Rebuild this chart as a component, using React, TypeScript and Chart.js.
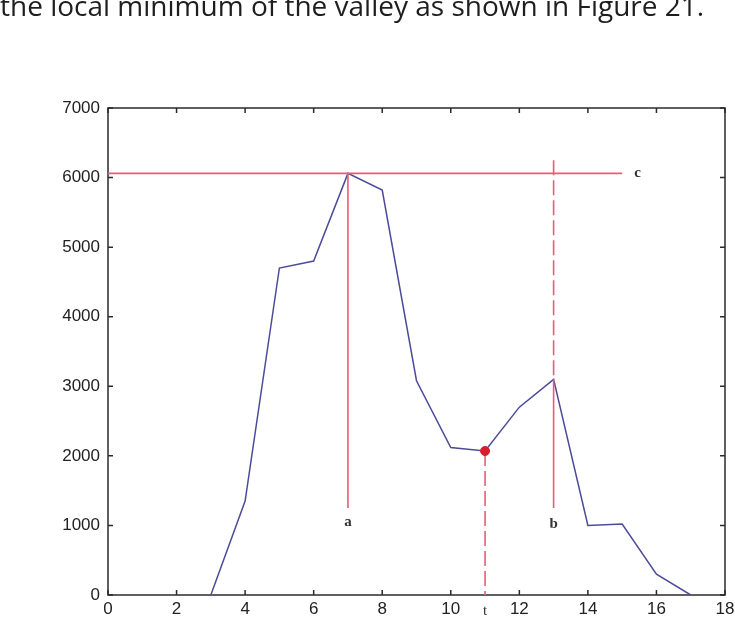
import React, { useEffect, useRef } from "react";
import { Chart, registerables } from "chart.js";

Chart.register(...registerables);

// Signal samples (x = sample index, y = amplitude)
const sampleX = [3, 4, 5, 6, 7, 8, 9, 10, 11, 12, 13, 14, 15, 16, 17];
const sampleY = [0, 1350, 4700, 4800, 6060, 5820, 3080, 2120, 2070, 2700, 3100, 1000, 1020, 300, 0];

// Axis ticks
const xTicks = [0, 2, 4, 6, 8, 10, 12, 14, 16, 18];
const yTicks = [0, 1000, 2000, 3000, 4000, 5000, 6000, 7000];

// Reference level c and the marker lines a, b, t
const levelC = 6060;
const levelCSpan = [0, 15];
const peakAX = 7;
const peakBX = 13;
const peakBY = 3100;
const markerBottom = 1250;
const markerBTop = 6250;
const valleyX = 11;
const valleyY = 2070;

const heading = "the local minimum of the valley as shown in Figure 21.";

const RED = "#e35f76";
const BLUE = "#4b4b99";

const framePlugin = {
  id: "matlabFrame",
  beforeDatasetsDraw(chart: any) {
    const { ctx, chartArea: a, scales } = chart;
    const xs = scales.x;
    const ys = scales.y;
    ctx.save();
    ctx.strokeStyle = "#2b2b2b";
    ctx.lineWidth = 1.5;
    ctx.strokeRect(a.left, a.top, a.right - a.left, a.bottom - a.top);
    const tl = 5;
    ctx.beginPath();
    xTicks.forEach((v) => {
      const px = xs.getPixelForValue(v);
      ctx.moveTo(px, a.bottom);
      ctx.lineTo(px, a.bottom - tl);
      ctx.moveTo(px, a.top);
      ctx.lineTo(px, a.top + tl);
    });
    yTicks.forEach((v) => {
      const py = ys.getPixelForValue(v);
      ctx.moveTo(a.left, py);
      ctx.lineTo(a.left + tl, py);
      ctx.moveTo(a.right, py);
      ctx.lineTo(a.right - tl, py);
    });
    ctx.stroke();
    ctx.restore();
  },
  afterDraw(chart: any) {
    const { ctx, scales } = chart;
    const xs = scales.x;
    const ys = scales.y;
    ctx.save();
    ctx.fillStyle = "#333";
    ctx.font = "bold 15px 'Liberation Serif'";
    ctx.textAlign = "center";
    ctx.textBaseline = "middle";
    ctx.fillText("a", xs.getPixelForValue(peakAX), ys.getPixelForValue(1050));
    ctx.fillText("b", xs.getPixelForValue(peakBX), ys.getPixelForValue(1020));
    ctx.fillText("c", xs.getPixelForValue(15.45), ys.getPixelForValue(levelC));
    ctx.font = "15px 'Liberation Serif'";
    ctx.fillText("t", xs.getPixelForValue(valleyX), 611);

    // Running text of the page, cut at the top edge
    ctx.fillStyle = "#1e1e1e";
    ctx.font = "28px 'Open Sans'";
    ctx.textAlign = "left";
    ctx.textBaseline = "alphabetic";
    ctx.fillText(heading, 0, 16, 706);
    ctx.restore();
  },
};

export default function App() {
  const canvasRef = useRef<HTMLCanvasElement | null>(null);

  useEffect(() => {
    const canvas = canvasRef.current;
    if (!canvas) return;

    const signal = sampleX.map((x, i) => ({ x, y: sampleY[i] }));

    const chart = new Chart(canvas, {
      type: "line",
      data: {
        datasets: [
          {
            type: "scatter",
            label: "valley",
            data: [{ x: valleyX, y: valleyY }],
            backgroundColor: "#d81e2c",
            borderColor: "#d81e2c",
            pointRadius: 4.5,
            showLine: false,
            order: -1,
          } as any,
          {
            label: "c",
            data: levelCSpan.map((x) => ({ x, y: levelC })),
            borderColor: RED,
            borderWidth: 1.6,
            pointRadius: 0,
          },
          {
            label: "a",
            data: [
              { x: peakAX, y: levelC },
              { x: peakAX, y: markerBottom },
            ],
            borderColor: RED,
            borderWidth: 1.6,
            pointRadius: 0,
          },
          {
            label: "b",
            data: [
              { x: peakBX, y: peakBY },
              { x: peakBX, y: markerBottom },
            ],
            borderColor: RED,
            borderWidth: 1.6,
            pointRadius: 0,
          },
          {
            label: "b-dash",
            data: [
              { x: peakBX, y: markerBTop },
              { x: peakBX, y: peakBY },
            ],
            borderColor: RED,
            borderWidth: 1.6,
            borderDash: [15, 5],
            pointRadius: 0,
          },
          {
            label: "t",
            data: [
              { x: valleyX, y: valleyY },
              { x: valleyX, y: 0 },
            ],
            borderColor: RED,
            borderWidth: 1.6,
            borderDash: [15, 5],
            pointRadius: 0,
          },
          {
            label: "signal",
            data: signal,
            borderColor: BLUE,
            borderWidth: 1.5,
            pointRadius: 0,
            tension: 0,
          },
        ],
      },
      options: {
        animation: false,
        responsive: false,
        devicePixelRatio: 1,
        layout: { padding: { top: 108, right: 10, left: 0, bottom: 0 } },
        plugins: {
          legend: { display: false },
          tooltip: { enabled: false },
        },
        scales: {
          x: {
            type: "linear",
            min: 0,
            max: 18,
            afterBuildTicks: (scale: any) => {
              scale.ticks = xTicks.map((value) => ({ value }));
            },
            afterFit: (scale: any) => {
              scale.height = 25;
              scale.paddingLeft = 0;
              scale.paddingRight = 0;
            },
            grid: { display: false, drawTicks: false },
            border: { display: false },
            ticks: {
              padding: 4,
              color: "#222",
              font: { family: "'Liberation Sans', Arial", size: 17 },
              maxRotation: 0,
              autoSkip: false,
            },
          },
          y: {
            type: "linear",
            min: 0,
            max: 7000,
            afterBuildTicks: (scale: any) => {
              scale.ticks = yTicks.map((value) => ({ value }));
            },
            afterFit: (scale: any) => {
              scale.width = 108;
              scale.paddingTop = 0;
              scale.paddingBottom = 0;
            },
            grid: { display: false, drawTicks: false },
            border: { display: false },
            ticks: {
              padding: 8,
              color: "#222",
              font: { family: "'Liberation Sans', Arial", size: 17 },
              callback: (v: any) => String(v),
            },
          },
        },
      },
      plugins: [framePlugin],
    });

    return () => chart.destroy();
  }, []);

  return (
    <div
      style={{
        position: "fixed",
        left: 0,
        top: 0,
        width: 735,
        height: 620,
        background: "#ffffff",
        overflow: "hidden",
      }}
    >
      <canvas ref={canvasRef} width={735} height={620} style={{ display: "block" }} />
    </div>
  );
}
